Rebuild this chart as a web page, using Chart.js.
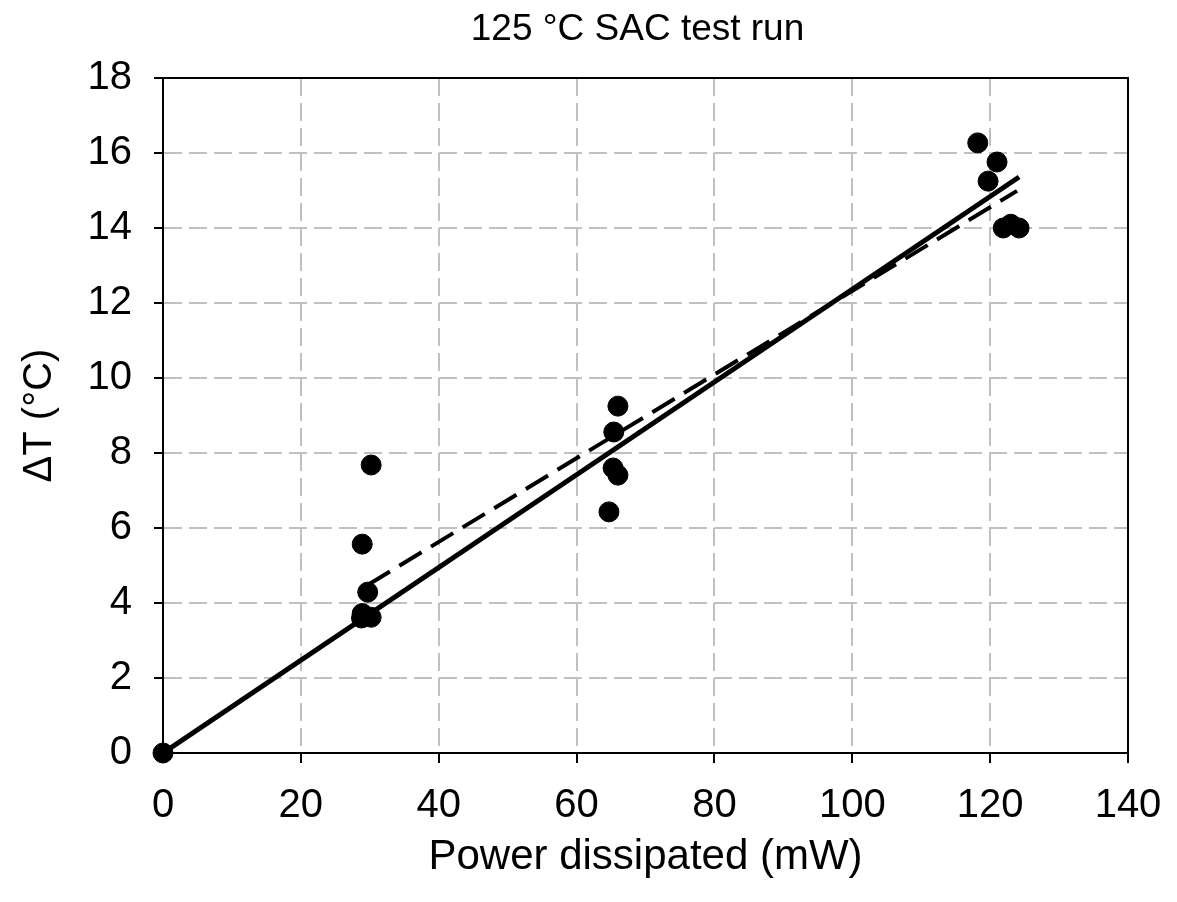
<!DOCTYPE html>
<html>
<head>
<meta charset="utf-8">
<script src="https://cdn.jsdelivr.net/npm/chart.js@4"></script>
<style>
  html, body { margin: 0; padding: 0; background: #fff; }
  canvas { display: block; }
</style>
</head>
<body>
<canvas id="chart" width="1177" height="902"></canvas>
<script>
// Measured points (power in mW, temperature rise in °C)
const powerMw = [0, 30.2, 28.9, 29.7, 28.9, 28.8, 30.2,
                 66.0, 65.4, 65.3, 66.0, 64.7,
                 118.2, 121.0, 119.7, 121.9, 123.0, 124.2];
const deltaT = [0, 7.68, 5.57, 4.29, 3.72, 3.6, 3.62,
                9.25, 8.56, 7.6, 7.41, 6.43,
                16.27, 15.76, 15.25, 14.0, 14.1, 14.0];

// Fit lines (end points)
const fitSolidX = [0, 124.2];
const fitSolidY = [0, 15.36];
const fitDashX = [29.7, 123.9];
const fitDashY = [4.48, 14.99];

const xTicks = [0, 20, 40, 60, 80, 100, 120, 140];
const yTicks = [0, 2, 4, 6, 8, 10, 12, 14, 16, 18];

const chartTitle = '125 °C SAC test run';

const toXY = (xs, ys) => xs.map((x, i) => ({ x: x, y: ys[i] }));

const font = "'Liberation Sans', Arial, sans-serif";

// Black frame around the plot area, plus the title centred over the plot
const framePlugin = {
    id: 'frame',
    beforeDatasetsDraw(chart) {
        const a = chart.chartArea;
        const ctx = chart.ctx;
        ctx.save();
        ctx.strokeStyle = '#000';
        ctx.lineWidth = 2;
        ctx.strokeRect(a.left, a.top, a.right - a.left, a.bottom - a.top);
        ctx.restore();
    },
    afterDraw(chart) {
        const a = chart.chartArea;
        const ctx = chart.ctx;
        ctx.save();
        ctx.fillStyle = '#000';
        ctx.font = '37px ' + font;
        ctx.textAlign = 'center';
        ctx.textBaseline = 'middle';
        ctx.fillText(chartTitle, (a.left + a.right) / 2 - 8, 30);
        ctx.restore();
    }
};

new Chart(document.getElementById('chart'), {
    type: 'scatter',
    data: {
        datasets: [
            {
                label: 'Data',
                data: toXY(powerMw, deltaT),
                backgroundColor: '#000',
                borderColor: '#000',
                pointRadius: 10,
                pointHoverRadius: 10,
                clip: false,
                order: 0
            },
            {
                label: 'Fit',
                type: 'line',
                data: toXY(fitSolidX, fitSolidY),
                borderColor: '#000',
                borderWidth: 5,
                pointRadius: 0,
                fill: false,
                order: 1
            },
            {
                label: 'Fit (dashed)',
                type: 'line',
                data: toXY(fitDashX, fitDashY),
                borderColor: '#000',
                borderWidth: 4,
                borderDash: [26, 11],
                pointRadius: 0,
                fill: false,
                order: 2
            }
        ]
    },
    options: {
        responsive: false,
        animation: false,
        devicePixelRatio: 1,
        layout: {
            autoPadding: false,
            padding: { top: 78, right: 49, bottom: 0, left: 0 }
        },
        plugins: {
            legend: { display: false },
            tooltip: { enabled: false },
            title: { display: false }
        },
        scales: {
            x: {
                type: 'linear',
                min: 0,
                max: 140,
                afterBuildTicks: (scale) => { scale.ticks = xTicks.map(v => ({ value: v })); },
                afterFit: (scale) => {
                    scale.height = 149;
                    scale.paddingLeft = 0;
                    scale.paddingRight = 0;
                },
                grid: {
                    color: '#c0c0c0',
                    lineWidth: 2,
                    tickColor: '#000',
                    tickLength: 10,
                    tickWidth: 2,
                    tickBorderDash: []
                },
                border: { color: '#000', width: 2, dash: [18, 7] },
                ticks: {
                    color: '#000',
                    padding: 19,
                    maxRotation: 0,
                    font: { family: font, size: 40 }
                },
                title: {
                    display: true,
                    text: 'Power dissipated (mW)',
                    color: '#000',
                    font: { family: font, size: 42 },
                    padding: { top: 0, bottom: 19 }
                }
            },
            y: {
                type: 'linear',
                min: 0,
                max: 18,
                afterBuildTicks: (scale) => { scale.ticks = yTicks.map(v => ({ value: v })); },
                afterFit: (scale) => {
                    scale.width = 163;
                    scale.paddingTop = 0;
                    scale.paddingBottom = 0;
                },
                grid: {
                    color: '#c0c0c0',
                    lineWidth: 2,
                    tickColor: '#000',
                    tickLength: 9,
                    tickWidth: 2,
                    tickBorderDash: []
                },
                border: { color: '#000', width: 2, dash: [18, 7] },
                ticks: {
                    color: '#000',
                    padding: 22,
                    font: { family: font, size: 40 }
                },
                title: {
                    display: true,
                    text: 'ΔT (°C)',
                    color: '#000',
                    font: { family: font, size: 40 },
                    padding: { top: 16, bottom: 0 }
                }
            }
        }
    },
    plugins: [framePlugin]
});
</script>
</body>
</html>
